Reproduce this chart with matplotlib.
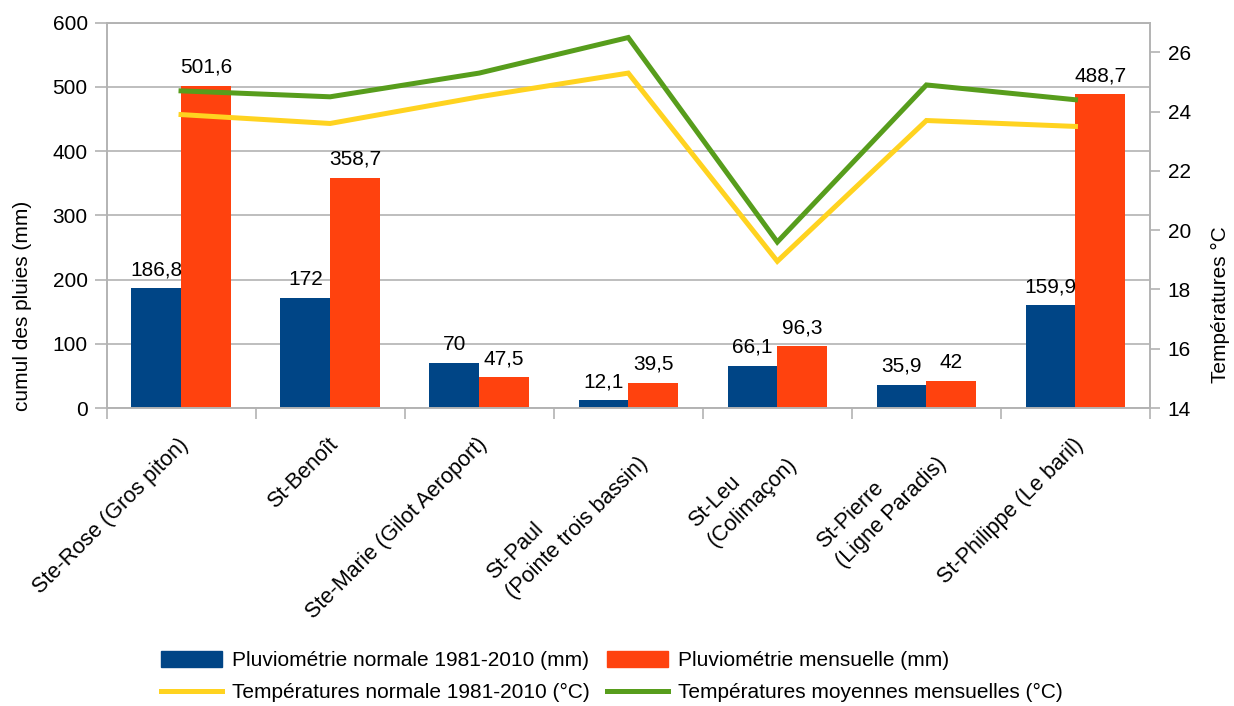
import matplotlib
matplotlib.use("Agg")
import matplotlib.pyplot as plt
import numpy as np
from matplotlib import transforms
from matplotlib.patches import Patch
from matplotlib.lines import Line2D

# ---- data ----
stations = ["Ste-Rose (Gros piton)", "St-Benoît", "Ste-Marie (Gilot Aeroport)",
            "St-Paul\n(Pointe trois bassin)", "St-Leu\n(Colimaçon)",
            "St-Pierre\n(Ligne Paradis)", "St-Philippe (Le baril)"]
pluvio_normale = [186.8, 172, 70, 12.1, 66.1, 35.9, 159.9]
pluvio_mensuelle = [501.6, 358.7, 47.5, 39.5, 96.3, 42, 488.7]
temp_normale = [23.9, 23.6, 24.5, 25.3, 18.95, 23.7, 23.5]
temp_moyenne = [24.7, 24.5, 25.3, 26.5, 19.6, 24.9, 24.4]
left_ticks = [0, 100, 200, 300, 400, 500, 600]
right_ticks = [14, 16, 18, 20, 22, 24, 26]

names = ["Pluviométrie normale 1981-2010 (mm)", "Pluviométrie mensuelle (mm)",
         "Températures normale 1981-2010 (°C)", "Températures moyennes mensuelles (°C)"]

# ---- style ----
plt.rcParams['font.family'] = ['Liberation Sans', 'DejaVu Sans']
FS = 15
BLUE, ORANGE, YELLOW, GREEN = "#004586", "#ff420e", "#ffd320", "#579d1c"
GRAY = "#b3b3b3"

fig = plt.figure(figsize=(12.34, 7.06), dpi=100)
ax = fig.add_axes([106.5 / 1234, 1 - 408 / 706, 1043.5 / 1234, 385.3 / 706])
ax2 = ax.twinx()

x = np.arange(len(stations))
w = 1 / 3
b1 = ax.bar(x - w / 2, pluvio_normale, width=w, color=BLUE, zorder=2)
b2 = ax.bar(x + w / 2, pluvio_mensuelle, width=w, color=ORANGE, zorder=2)

def fmt(v):
    return f"{v:g}".replace(".", ",")

for bars, vals in ((b1, pluvio_normale), (b2, pluvio_mensuelle)):
    for r, v in zip(bars, vals):
        ax.annotate(fmt(v), (r.get_x() + r.get_width() / 2, r.get_height()),
                    xytext=(0, 13), textcoords="offset pixels",
                    ha="center", va="baseline", fontsize=FS, color="black")

ax2.plot(x, temp_normale, color=YELLOW, lw=3.6, solid_joinstyle="miter", zorder=3)
ax2.plot(x, temp_moyenne, color=GREEN, lw=3.6, solid_joinstyle="miter", zorder=3)

ax.set_xlim(-0.5, len(stations) - 0.5)
ax.set_ylim(0, 600)
ax2.set_ylim(14, 27)
ax.set_yticks(left_ticks)
ax2.set_yticks(right_ticks)

ax.set_axisbelow(True)
ax.yaxis.grid(True, color=GRAY, lw=1.2)
ax.xaxis.grid(False)

for a in (ax, ax2):
    for s in a.spines.values():
        s.set_color(GRAY)
        s.set_linewidth(1.2)

ax.set_xticks(x)
ax.set_xticklabels([])
ax.tick_params(axis="x", which="major", length=0)
ax.set_xticks(np.arange(-0.5, len(stations)), minor=True)
ax.tick_params(axis="x", which="minor", length=8, color=GRAY, width=1.2)
ax.tick_params(axis="y", length=8.5, color=GRAY, width=1.2, pad=5, labelsize=FS)
ax2.tick_params(axis="y", length=7.2, color=GRAY, width=1.2, pad=5.5, labelsize=FS)

for xi, s in zip(x, stations):
    dx = -10 if "\n" in s else -3
    trans = ax.get_xaxis_transform() + transforms.ScaledTranslation(dx / 100, -26 / 100, fig.dpi_scale_trans)
    ax.text(xi, 0, s, transform=trans, rotation=45, ha="right", va="top",
            rotation_mode="anchor", multialignment="left", linespacing=1.4,
            fontsize=15.6)

ax.set_ylabel("cumul des pluies (mm)", fontsize=FS)
ax.yaxis.set_label_coords(-0.0714, 0.264)
ax2.set_ylabel("Températures °C", fontsize=FS)
ax2.yaxis.set_label_coords(1.0585, 0.267)

handles = [Patch(color=BLUE), Line2D([], [], color=YELLOW, lw=3.6),
           Patch(color=ORANGE), Line2D([], [], color=GREEN, lw=3.6)]
labels = [names[0], names[2], names[1], names[3]]
fig.legend(handles, labels, ncol=2, loc="center", bbox_to_anchor=(0.496, 0.0418),
           frameon=False, fontsize=FS, handlelength=2.95, handleheight=0.8,
           handletextpad=0.48, columnspacing=0.8, labelspacing=0.62, borderpad=0)

fig.savefig("out.png", dpi=100)
